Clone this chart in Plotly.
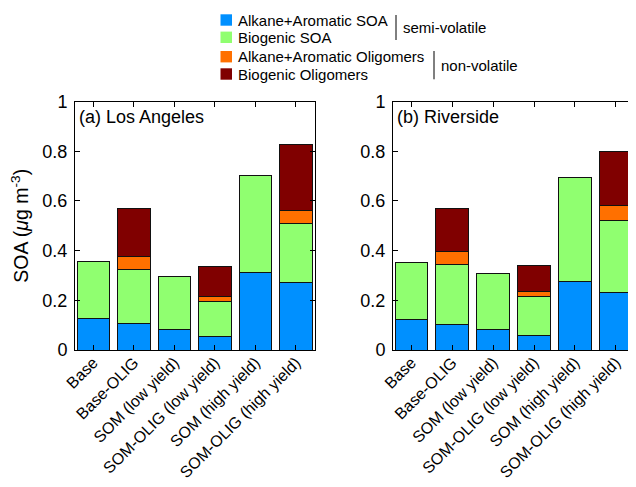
import plotly.graph_objects as go

categories = ["Base", "Base-OLIG", "SOM (low yield)", "SOM-OLIG (low yield)",
              "SOM (high yield)", "SOM-OLIG (high yield)"]
series_names = ["Alkane+Aromatic SOA", "Biogenic SOA",
                "Alkane+Aromatic Oligomers", "Biogenic Oligomers"]
series_colors = ["#0090ff", "#90ff70", "#ff7000", "#800000"]

# (a) Los Angeles
la_alk_soa = [0.125, 0.105, 0.081, 0.056, 0.310, 0.270]
la_bio_soa = [0.231, 0.217, 0.214, 0.139, 0.392, 0.240]
la_alk_olig = [0.0, 0.054, 0.0, 0.020, 0.0, 0.051]
la_bio_olig = [0.0, 0.194, 0.0, 0.121, 0.0, 0.267]

# (b) Riverside
rv_alk_soa = [0.123, 0.104, 0.084, 0.059, 0.275, 0.233]
rv_bio_soa = [0.230, 0.241, 0.222, 0.155, 0.419, 0.290]
rv_alk_olig = [0.0, 0.053, 0.0, 0.021, 0.0, 0.057]
rv_bio_olig = [0.0, 0.170, 0.0, 0.105, 0.0, 0.220]

y_ticks = [0, 0.2, 0.4, 0.6, 0.8, 1]
y_ticktext = ["0", "0.2", "0.4", "0.6", "0.8", "1"]

volatility_groups = [("semi-volatile", 0, 1), ("non-volatile", 2, 3)]

# page is 636x487; the html body adds an 8px margin
OFF = 8
W, H = 636 - OFF, 487 - OFF
FONT = "Liberation Sans, Arial, Helvetica, sans-serif"


def px_x(p):
    return (p - OFF) / W


def px_y(p):
    return 1 - (p - OFF) / H


fig = go.Figure()
panels = [
    ("x", "y", [la_alk_soa, la_bio_soa, la_alk_olig, la_bio_olig]),
    ("x2", "y2", [rv_alk_soa, rv_bio_soa, rv_alk_olig, rv_bio_olig]),
]
for xa, ya, series in panels:
    for name, color, vals in zip(series_names, series_colors, series):
        fig.add_trace(go.Bar(
            x=categories, y=vals, name=name, xaxis=xa, yaxis=ya,
            marker=dict(color=color, line=dict(color="#111111", width=1)),
            showlegend=False,
        ))

y_dom = [px_y(350), px_y(101.5)]
axis_common = dict(showline=True, linecolor="black", linewidth=1, mirror="ticks",
                   ticks="inside", ticklen=5, tickcolor="black", showgrid=False,
                   zeroline=False)

# legend drawn as swatches + labels
row_y = [20, 37.3, 56.7, 74]
shapes = []
annotations = []
for name, color, yc in zip(series_names, series_colors, row_y):
    shapes.append(dict(type="rect", xref="paper", yref="paper",
                       x0=px_x(220.5), x1=px_x(232), y0=px_y(yc + 5.7), y1=px_y(yc - 5.7),
                       fillcolor=color, line=dict(width=0)))
    annotations.append(dict(text=name, x=px_x(236), y=px_y(yc), xref="paper",
                            yref="paper", xanchor="left", yanchor="middle",
                            showarrow=False, font=dict(size=15)))

bracket_x = [396, 434]
bracket_y = [(15, 40), (51, 79.3)]
for (label, i0, i1), bx, (by0, by1) in zip(volatility_groups, bracket_x, bracket_y):
    shapes.append(dict(type="line", xref="paper", yref="paper", x0=px_x(bx), x1=px_x(bx),
                       y0=px_y(by0), y1=px_y(by1), line=dict(color="black", width=1)))
    annotations.append(dict(text=label, x=px_x(bx + 5), y=px_y((by0 + by1) / 2),
                            xref="paper", yref="paper", xanchor="left",
                            yanchor="middle", showarrow=False, font=dict(size=15)))

annotations += [
    dict(text="(a) Los Angeles", x=px_x(77), y=px_y(117), xref="paper", yref="paper",
         xanchor="left", yanchor="middle", showarrow=False, font=dict(size=18)),
    dict(text="(b) Riverside", x=px_x(395), y=px_y(117), xref="paper", yref="paper",
         xanchor="left", yanchor="middle", showarrow=False, font=dict(size=18)),
]

fig.update_layout(
    width=W, height=H,
    margin=dict(l=0, r=0, t=0, b=0),
    paper_bgcolor="white", plot_bgcolor="white",
    barmode="stack", bargap=0.2,
    font=dict(family=FONT, color="black"),
    showlegend=False,
    xaxis=dict(domain=[px_x(75), px_x(315)], anchor="y", range=[-0.45, 5.47],
               tickangle=-45, tickfont=dict(size=16), automargin=False,
               ticklabelstandoff=-4, **axis_common),
    yaxis=dict(domain=y_dom, anchor="x", range=[0, 1], tickvals=y_ticks,
               ticktext=y_ticktext, tickfont=dict(size=18), automargin=False,
               ticklabelstandoff=3,
               title=dict(text="SOA (<i>μ</i>g m<sup>-3</sup>)", font=dict(size=19.5),
                          standoff=15),
               **axis_common),
    xaxis2=dict(domain=[px_x(393), px_x(635)], anchor="y2", range=[-0.45, 5.47],
                tickangle=-45, tickfont=dict(size=16), automargin=False,
                ticklabelstandoff=-4, **axis_common),
    yaxis2=dict(domain=y_dom, anchor="x2", range=[0, 1], tickvals=y_ticks,
                ticktext=y_ticktext, tickfont=dict(size=18), automargin=False,
                ticklabelstandoff=3, **axis_common),
    annotations=annotations,
    shapes=shapes,
)

fig.write_html("out.html")
